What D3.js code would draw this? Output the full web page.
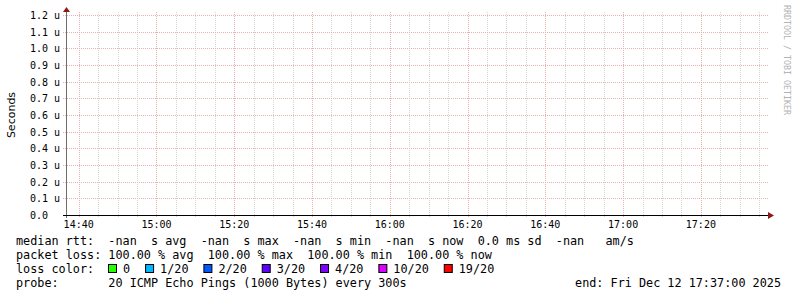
<!DOCTYPE html>
<html>
<head>
<meta charset="utf-8">
<script src="https://cdn.jsdelivr.net/npm/d3@7"></script>
<style>
  body { margin: 0; background: #fff; }
  text { white-space: pre; }
</style>
</head>
<body>
<script>
// values
var timeStart = new Date(2025, 11, 12, 14, 37, 0);
var timeEnd = new Date(2025, 11, 12, 17, 37, 0);
var yTicks = [0, 0.1e-6, 0.2e-6, 0.3e-6, 0.4e-6, 0.5e-6, 0.6e-6, 0.7e-6, 0.8e-6, 0.9e-6, 1.0e-6, 1.1e-6, 1.2e-6];
var yTickLabels = ["0.0  ", "0.1 u", "0.2 u", "0.3 u", "0.4 u", "0.5 u", "0.6 u", "0.7 u", "0.8 u", "0.9 u", "1.0 u", "1.1 u", "1.2 u"];
var lossLabels = ["0", "1/20", "2/20", "3/20", "4/20", "10/20", "19/20"];
var lossColors = ["#26ff00", "#00b8ff", "#0059ff", "#5e00ff", "#7e00ff", "#dd00ff", "#ff0000"];
var legendLines = [
  "median rtt:  -nan  s avg  -nan  s max  -nan  s min  -nan  s now  0.0 ms sd  -nan   am/s",
  "packet loss: 100.00 % avg  100.00 % max  100.00 % min  100.00 % now",
  "loss color:",
  "probe:       20 ICMP Echo Pings (1000 Bytes) every 300s"
];
var endLabel = "end: Fri Dec 12 17:37:00 2025";

var W = 797, H = 297;
var plotLeft = 67, plotRight = 767, plotTop = 15, plotBottom = 215;
var mono = "'DejaVu Sans Mono', monospace";
var charW = 7.08;
var majorColor = "#eab0b0", minorColor = "#d6d6d6";

var svg = d3.select("body").append("svg")
  .attr("width", W)
  .attr("height", H);

var x = d3.scaleTime().domain([timeStart, timeEnd]).range([plotLeft, plotRight]);
var y = d3.scaleLinear().domain([0, 1.2e-6]).range([plotBottom, plotTop]);

// minor vertical grid, every 5 minutes
var minorTimes = x.ticks(d3.timeMinute.every(5));
svg.append("g").selectAll("line")
  .data(minorTimes.filter(function(d) { return d.getMinutes() % 20 !== 0; }))
  .enter().append("line")
  .attr("x1", function(d) { return Math.round(x(d)) + 0.5; })
  .attr("x2", function(d) { return Math.round(x(d)) + 0.5; })
  .attr("y1", plotTop - 3)
  .attr("y2", plotBottom + 3)
  .attr("stroke", minorColor)
  .attr("stroke-dasharray", "1,1");

// major vertical grid, every 20 minutes
var majorTimes = x.ticks(d3.timeMinute.every(20));
svg.append("g").selectAll("line")
  .data(majorTimes)
  .enter().append("line")
  .attr("x1", function(d) { return Math.round(x(d)) + 0.5; })
  .attr("x2", function(d) { return Math.round(x(d)) + 0.5; })
  .attr("y1", plotTop - 3)
  .attr("y2", plotBottom + 3)
  .attr("stroke", majorColor)
  .attr("stroke-dasharray", "1,1");

// horizontal grid
svg.append("g").selectAll("line")
  .data(yTicks.slice(1))
  .enter().append("line")
  .attr("x1", plotLeft - 4)
  .attr("x2", plotRight + 1)
  .attr("y1", function(d) { return Math.round(y(d)) + 0.5; })
  .attr("y2", function(d) { return Math.round(y(d)) + 0.5; })
  .attr("stroke", majorColor)
  .attr("stroke-dasharray", "1,1");

// y tick labels
svg.append("g").selectAll("text")
  .data(yTicks)
  .enter().append("text")
  .attr("x", 60)
  .attr("y", function(d) { return Math.round(y(d)) + 4; })
  .attr("text-anchor", "end")
  .attr("font-family", mono)
  .attr("font-size", "10px")
  .text(function(d, i) { return yTickLabels[i]; });

// x tick labels
svg.append("g").selectAll("text")
  .data(majorTimes)
  .enter().append("text")
  .attr("x", function(d) { return x(d); })
  .attr("y", 228)
  .attr("text-anchor", "middle")
  .attr("font-family", mono)
  .attr("font-size", "10px")
  .text(d3.timeFormat("%H:%M"));

// axes
svg.append("line")
  .attr("x1", plotLeft - 0.5).attr("x2", plotLeft - 0.5)
  .attr("y1", 10).attr("y2", plotBottom + 3)
  .attr("stroke", "#6e6e6e");
svg.append("line")
  .attr("x1", plotLeft - 4).attr("x2", plotRight + 3)
  .attr("y1", plotBottom + 0.5).attr("y2", plotBottom + 0.5)
  .attr("stroke", "#000");
svg.append("path")
  .attr("d", "M" + (plotLeft - 4) + ",12 L" + (plotLeft + 3) + ",12 L" + (plotLeft - 0.5) + ",7 Z")
  .attr("fill", "#8b1a1a");
svg.append("path")
  .attr("d", "M" + (plotRight + 1) + "," + (plotBottom - 3) + " L" + (plotRight + 1) + "," + (plotBottom + 4) + " L" + (plotRight + 7) + "," + (plotBottom + 0.5) + " Z")
  .attr("fill", "#8b1a1a");

// y axis title
svg.append("text")
  .attr("transform", "translate(15,115) rotate(-90)")
  .attr("text-anchor", "middle")
  .attr("font-family", "'DejaVu Sans', sans-serif")
  .attr("font-size", "11px")
  .text("Seconds");

// watermark
svg.append("text")
  .attr("transform", "translate(784,5) rotate(90)")
  .attr("font-family", mono)
  .attr("font-size", "8.3px")
  .attr("fill", "#b3b3b3")
  .text("RRDTOOL / TOBI OETIKER");

// legend text lines
svg.append("g").selectAll("text")
  .data(legendLines)
  .enter().append("text")
  .attr("x", 16)
  .attr("y", function(d, i) { return 245 + i * 14; })
  .attr("font-family", mono)
  .attr("font-size", "11.8px")
  .text(function(d) { return d; });

// loss colour boxes
var bx = 108;
lossLabels.forEach(function(lbl, i) {
  svg.append("rect")
    .attr("x", bx + 0.5).attr("y", 264.5)
    .attr("width", 8).attr("height", 8)
    .attr("fill", lossColors[i])
    .attr("stroke", "#000");
  svg.append("text")
    .attr("x", bx + 15)
    .attr("y", 273)
    .attr("font-family", mono)
    .attr("font-size", "11.8px")
    .text(lbl);
  bx = bx + 15 + lbl.length * charW + 15;
});

svg.append("text")
  .attr("x", 781)
  .attr("y", 287)
  .attr("text-anchor", "end")
  .attr("font-family", mono)
  .attr("font-size", "11.8px")
  .text(endLabel);
</script>
</body>
</html>
